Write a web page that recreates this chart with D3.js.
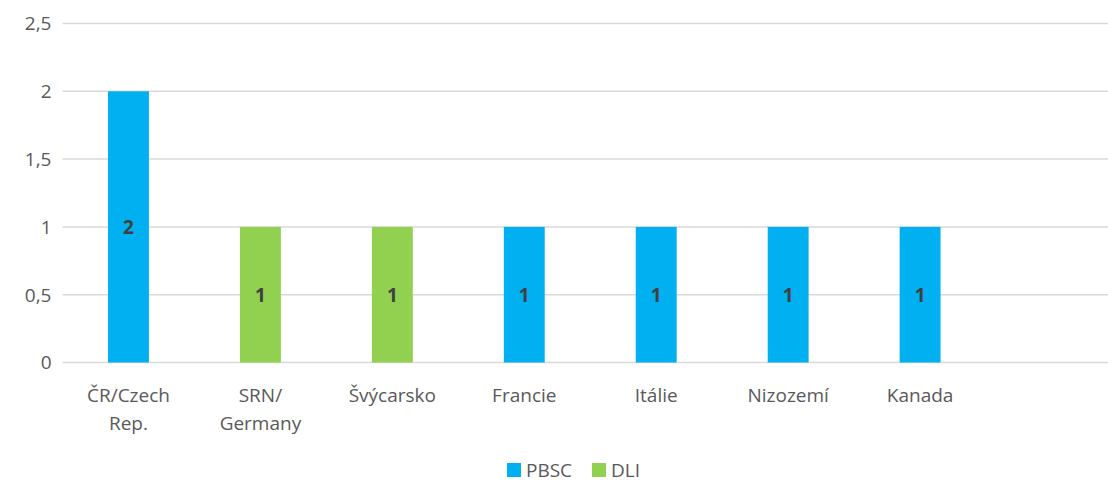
<!DOCTYPE html>
<html>
<head>
<meta charset="utf-8">
<script src="https://cdn.jsdelivr.net/npm/d3@7"></script>
<style>
  body { margin: 0; background: #fff; }
  svg text { font-family: "Open Sans", "Noto Sans", sans-serif; }
</style>
</head>
<body>
<div id="chart"></div>
<script>
const categories = [["ČR/Czech", "Rep."], ["SRN/", "Germany"], ["Švýcarsko"], ["Francie"], ["Itálie"], ["Nizozemí"], ["Kanada"], [""]];
const seriesNames = ["PBSC", "DLI"];
const pbsc = [2, 0, 0, 1, 1, 1, 1, 0];
const dli  = [0, 1, 1, 0, 0, 0, 0, 0];
const yTicks = [0, 0.5, 1, 1.5, 2, 2.5];
const colors = ["#00B0F0", "#92D050"];

const W = 1108, H = 484;
const margin = {top: 23.5, right: -10, bottom: 121.5, left: 62.5};
const width = W - margin.left - margin.right,
      height = H - margin.top - margin.bottom;

const svg = d3.select("#chart").append("svg")
    .attr("width", W).attr("height", H)
  .append("g")
    .attr("transform", `translate(${margin.left},${margin.top})`);

const keys = categories.map((c, i) => i);
const x = d3.scaleBand().domain(keys).range([0, width]).paddingInner(0.69).paddingOuter(0.345);
const y = d3.scaleLinear().domain([0, 2.5]).range([height, 0]);

// grid
svg.append("g").selectAll("line").data(yTicks).enter().append("line")
   .attr("x1", 0).attr("x2", width)
   .attr("y1", d => y(d)).attr("y2", d => y(d))
   .attr("stroke", "#d9d9d9").attr("stroke-width", 1.5);

// y labels
const fmt = d => String(d).replace(".", ",");
svg.append("g").selectAll("text").data(yTicks).enter().append("text")
   .attr("x", -11).attr("y", d => y(d)).attr("dy", "0.36em")
   .attr("text-anchor", "end")
   .attr("fill", "#595959").style("font-size", "19px")
   .text(fmt);

// stacked bars
const rows = keys.map(i => ({i, PBSC: pbsc[i], DLI: dli[i]}));
const stack = d3.stack().keys(seriesNames)(rows);
stack.forEach((layer, si) => {
  const g = svg.append("g");
  const items = layer.filter(d => d[1] - d[0] > 0);
  g.selectAll("rect").data(items).enter().append("rect")
   .attr("x", d => x(d.data.i))
   .attr("y", d => y(d[1]))
   .attr("width", x.bandwidth())
   .attr("height", d => y(d[0]) - y(d[1]))
   .attr("fill", colors[si]);
  g.selectAll("text").data(items).enter().append("text")
   .attr("x", d => x(d.data.i) + x.bandwidth() / 2)
   .attr("y", d => (y(d[0]) + y(d[1])) / 2).attr("dy", "0.36em")
   .attr("text-anchor", "middle")
   .attr("fill", "#404040").style("font-size", "19px").style("font-weight", "bold")
   .text(d => d[1] - d[0]);
});

// category labels
const cat = svg.append("g").selectAll("text").data(keys).enter().append("text")
   .attr("text-anchor", "middle")
   .attr("fill", "#595959").style("font-size", "19px")
   .attr("transform", d => `translate(${x(d) + x.bandwidth() / 2},${height + 39})`);
cat.selectAll("tspan").data(d => categories[d]).enter().append("tspan")
   .attr("x", 0).attr("y", (d, j) => j * 28)
   .text(d => d);

// legend
const legend = svg.append("g").attr("transform", `translate(${507 - margin.left},${463 - margin.top})`);
const offs = [0, 85];
seriesNames.forEach((s, i) => {
  legend.append("rect").attr("x", offs[i]).attr("y", 0)
        .attr("width", 14).attr("height", 14).attr("fill", colors[i]);
  legend.append("text").attr("x", offs[i] + 19).attr("y", 7).attr("dy", "0.36em")
        .attr("fill", "#595959").style("font-size", "19px").text(s);
});
</script>
</body>
</html>
